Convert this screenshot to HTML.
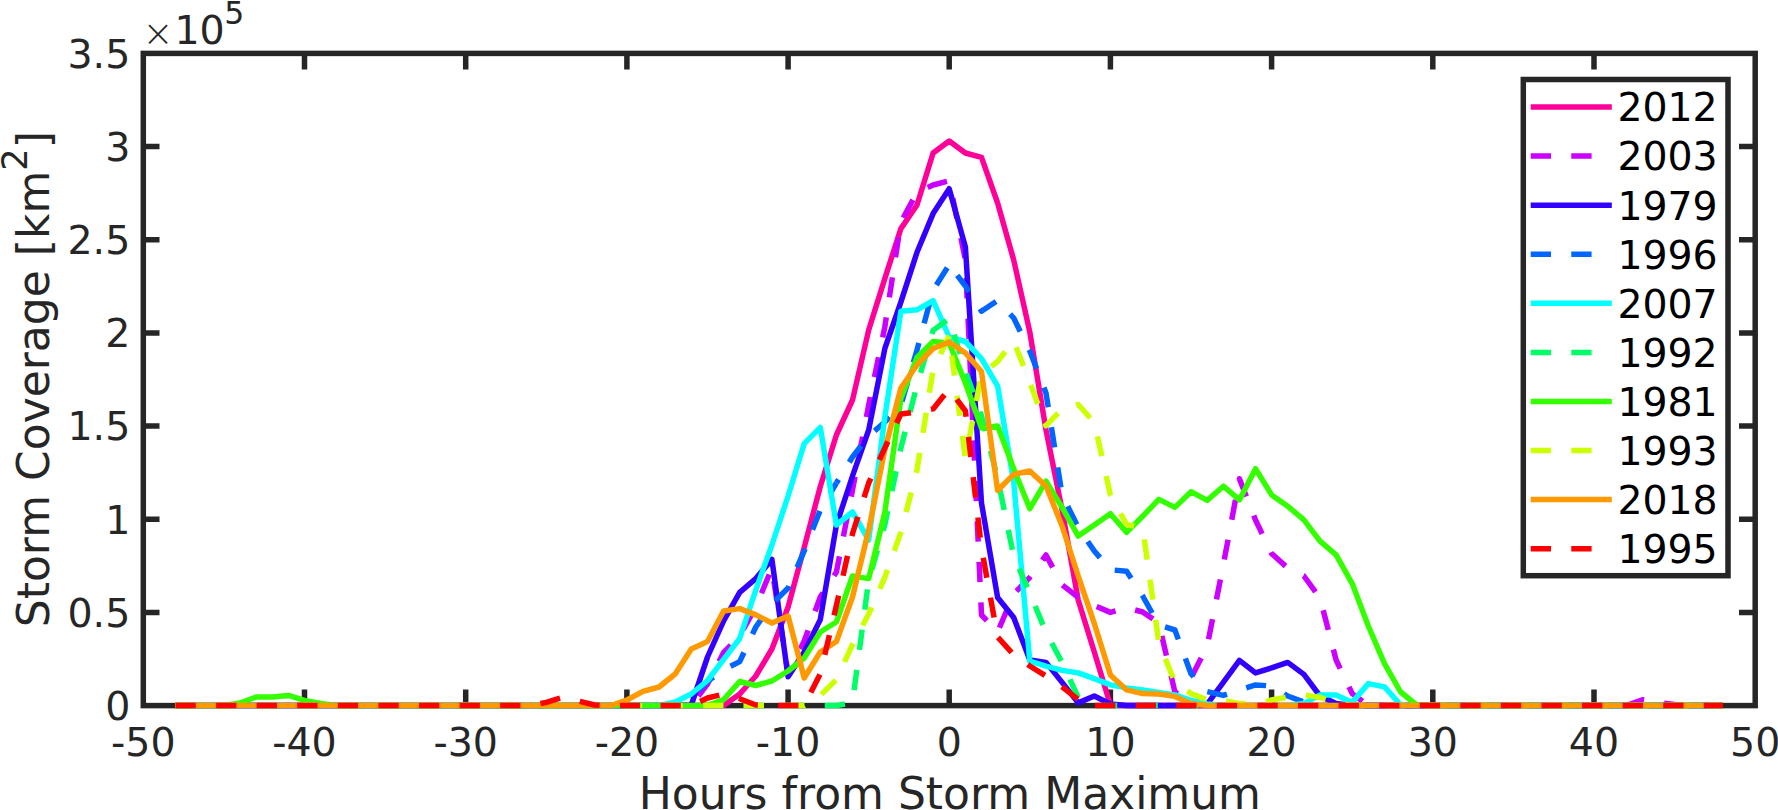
<!DOCTYPE html>
<html lang="en">
<head>
<meta charset="utf-8">
<title>Storm Coverage vs Hours from Storm Maximum</title>
<style>
html,body{margin:0;padding:0;background:#fff;}
body{width:1778px;height:810px;overflow:hidden;}
svg{display:block;}
text{font-family:"DejaVu Sans","Liberation Sans",sans-serif;}
.tk{font-size:39.5px;fill:#262626;}
.lg{font-size:39.4px;fill:#000;}
.ln{fill:none;stroke-width:5.5;stroke-linejoin:round;stroke-linecap:butt;}
.ds{stroke-dasharray:20.3 20.28;}
</style>
</head>
<body>
<svg width="1778" height="810" viewBox="0 0 1778 810">
<rect x="0" y="0" width="1778" height="810" fill="#ffffff"/>

<g stroke="#262626" stroke-width="5.5" fill="none" stroke-linecap="butt">
<rect x="143.3" y="53.4" width="1611.9" height="652.2"/>
<path d="M304.5 705.6V689.4M304.5 53.4V69.6"/>
<path d="M465.7 705.6V689.4M465.7 53.4V69.6"/>
<path d="M626.9 705.6V689.4M626.9 53.4V69.6"/>
<path d="M788.1 705.6V689.4M788.1 53.4V69.6"/>
<path d="M949.2 705.6V689.4M949.2 53.4V69.6"/>
<path d="M1110.4 705.6V689.4M1110.4 53.4V69.6"/>
<path d="M1271.6 705.6V689.4M1271.6 53.4V69.6"/>
<path d="M1432.8 705.6V689.4M1432.8 53.4V69.6"/>
<path d="M1594.0 705.6V689.4M1594.0 53.4V69.6"/>
<path d="M143.3 612.4H159.5M1755.2 612.4H1739.0"/>
<path d="M143.3 519.3H159.5M1755.2 519.3H1739.0"/>
<path d="M143.3 426.1H159.5M1755.2 426.1H1739.0"/>
<path d="M143.3 332.9H159.5M1755.2 332.9H1739.0"/>
<path d="M143.3 239.7H159.5M1755.2 239.7H1739.0"/>
<path d="M143.3 146.6H159.5M1755.2 146.6H1739.0"/>
</g>
<g class="plot">
<path class="ln" stroke="#FF0099" d="M175.5 705.6L191.7 705.6L207.8 705.6L223.9 705.6L240.0 705.6L256.1 705.6L272.3 705.6L288.4 705.6L304.5 705.6L320.6 705.6L336.7 705.6L352.8 705.6L369.0 705.6L385.1 705.6L401.2 705.6L417.3 705.6L433.4 705.6L449.6 705.6L465.7 705.6L481.8 705.6L497.9 705.6L514.0 705.6L530.2 705.6L546.3 705.6L562.4 705.6L578.5 705.6L594.6 705.6L610.8 705.6L626.9 705.6L643.0 705.6L659.1 705.6L675.2 705.6L691.3 705.6L707.5 705.6L723.6 705.6L739.7 694.0L755.8 676.0L771.9 649.0L788.1 607.0L804.2 547.4L820.3 486.5L836.4 435.0L852.5 400.0L868.7 330.0L884.8 278.6L900.9 228.6L917.0 205.0L933.1 153.0L949.2 141.0L965.4 153.0L981.5 157.3L997.6 203.0L1013.7 260.0L1029.8 332.0L1046.0 430.0L1062.1 510.0L1078.2 600.0L1094.3 652.0L1110.4 705.0L1126.6 705.6L1142.7 705.6L1158.8 705.6L1174.9 705.6L1191.0 705.6L1207.2 705.6L1223.3 705.6L1239.4 705.6L1255.5 705.6L1271.6 705.6L1287.7 705.6L1303.9 705.6L1320.0 705.6L1336.1 705.6L1352.2 705.6L1368.3 705.6L1384.5 705.6L1400.6 705.6L1416.7 705.6L1432.8 705.6L1448.9 705.6L1465.1 705.6L1481.2 705.6L1497.3 705.6L1513.4 705.6L1529.5 705.6L1545.7 705.6L1561.8 705.6L1577.9 705.6L1594.0 705.6L1610.1 705.6L1626.2 705.6L1642.4 705.6L1658.5 705.6L1674.6 705.6L1690.7 705.6L1706.8 705.6L1723.0 705.6"/>
<path class="ln ds" stroke="#CC00FF" d="M175.5 705.6L191.7 705.6L207.8 705.6L223.9 705.6L240.0 705.6L256.1 705.6L272.3 705.6L288.4 705.6L304.5 705.6L320.6 705.6L336.7 705.6L352.8 705.6L369.0 705.6L385.1 705.6L401.2 705.6L417.3 705.6L433.4 705.6L449.6 705.6L465.7 705.6L481.8 705.6L497.9 705.6L514.0 705.6L530.2 705.6L546.3 705.6L562.4 705.6L578.5 705.6L594.6 705.6L610.8 705.6L626.9 705.6L643.0 705.6L659.1 705.6L675.2 705.6L691.3 705.6L707.5 684.0L723.6 652.5L739.7 636.0L755.8 607.0L771.9 568.0L788.1 674.0L804.2 641.0L820.3 597.0L836.4 572.0L852.5 490.0L868.7 405.0L884.8 327.0L900.9 222.0L917.0 192.4L933.1 185.0L949.2 180.7L965.4 260.0L981.5 615.0L997.6 632.0L1013.7 594.0L1029.8 577.3L1046.0 555.0L1062.1 584.8L1078.2 597.4L1094.3 605.5L1110.4 612.4L1126.6 607.8L1142.7 612.0L1158.8 623.0L1174.9 692.0L1191.0 678.0L1207.2 646.0L1223.3 565.0L1239.4 478.7L1255.5 520.0L1271.6 553.6L1287.7 568.0L1303.9 576.0L1320.0 598.0L1336.1 660.0L1352.2 693.6L1368.3 705.6L1384.5 705.6L1400.6 705.6L1416.7 705.6L1432.8 705.6L1448.9 705.6L1465.1 705.6L1481.2 705.6L1497.3 705.6L1513.4 705.6L1529.5 705.6L1545.7 705.6L1561.8 705.6L1577.9 705.6L1594.0 705.6L1610.1 705.6L1626.2 705.6L1642.4 699.8L1658.5 702.5L1674.6 704.5L1690.7 705.6L1706.8 705.6L1723.0 705.6"/>
<path class="ln" stroke="#3300FF" d="M175.5 705.6L191.7 705.6L207.8 705.6L223.9 705.6L240.0 705.6L256.1 705.6L272.3 705.6L288.4 705.6L304.5 705.6L320.6 705.6L336.7 705.6L352.8 705.6L369.0 705.6L385.1 705.6L401.2 705.6L417.3 705.6L433.4 705.6L449.6 705.6L465.7 705.6L481.8 705.6L497.9 705.6L514.0 705.6L530.2 705.6L546.3 705.6L562.4 705.6L578.5 705.6L594.6 705.6L610.8 705.6L626.9 705.6L643.0 705.6L659.1 705.6L675.2 705.6L691.3 705.0L707.5 657.0L723.6 621.0L739.7 592.4L755.8 578.6L771.9 559.4L788.1 676.8L804.2 652.0L820.3 619.6L836.4 525.0L852.5 476.0L868.7 430.0L884.8 348.7L900.9 302.0L917.0 252.3L933.1 213.6L949.2 188.7L965.4 247.0L981.5 503.0L997.6 597.5L1013.7 617.5L1029.8 660.0L1046.0 662.4L1062.1 682.4L1078.2 702.9L1094.3 696.0L1110.4 704.0L1126.6 705.6L1142.7 705.6L1158.8 705.6L1174.9 705.6L1191.0 705.6L1207.2 704.1L1223.3 682.4L1239.4 660.4L1255.5 672.9L1271.6 667.9L1287.7 662.4L1303.9 674.4L1320.0 696.0L1336.1 703.6L1352.2 705.6L1368.3 705.6L1384.5 705.6L1400.6 705.6L1416.7 705.6L1432.8 705.6L1448.9 705.6L1465.1 705.6L1481.2 705.6L1497.3 705.6L1513.4 705.6L1529.5 705.6L1545.7 705.6L1561.8 705.6L1577.9 705.6L1594.0 705.6L1610.1 705.6L1626.2 705.6L1642.4 705.6L1658.5 705.6L1674.6 705.6L1690.7 705.6L1706.8 705.6L1723.0 705.6"/>
<path class="ln ds" stroke="#0066FF" d="M175.5 705.6L191.7 705.6L207.8 705.6L223.9 705.6L240.0 705.6L256.1 705.6L272.3 705.6L288.4 705.6L304.5 705.6L320.6 705.6L336.7 705.6L352.8 705.6L369.0 705.6L385.1 705.6L401.2 705.6L417.3 705.6L433.4 705.6L449.6 705.6L465.7 705.6L481.8 705.6L497.9 705.6L514.0 705.6L530.2 705.6L546.3 705.6L562.4 705.6L578.5 705.6L594.6 705.6L610.8 705.6L626.9 705.6L643.0 705.6L659.1 705.6L675.2 705.6L691.3 697.0L707.5 681.4L723.6 669.7L739.7 661.6L755.8 627.0L771.9 604.0L788.1 588.0L804.2 551.0L820.3 510.0L836.4 483.0"/>
<path class="ln ds" stroke="#0066FF" stroke-dashoffset="16.15" d="M836.4 483.0L852.5 457.0L868.7 436.0L884.8 422.0L900.9 405.0L917.0 350.0L933.1 290.0L949.2 264.8"/>
<path class="ln ds" stroke="#0066FF" stroke-dashoffset="27.37" d="M949.2 264.8L965.4 286.0L981.5 311.2L997.6 300.5L1013.7 318.0L1029.8 351.0L1046.0 393.0L1062.1 495.0L1078.2 527.4L1094.3 551.0L1110.4 569.7L1126.6 571.3L1142.7 596.0L1158.8 625.0L1174.9 630.0L1191.0 673.7L1207.2 691.6L1223.3 695.4L1239.4 689.9L1255.5 684.9L1271.6 686.0L1287.7 696.0L1303.9 702.0L1320.0 705.6L1336.1 705.6L1352.2 705.6L1368.3 705.6L1384.5 705.6L1400.6 705.6L1416.7 705.6L1432.8 705.6L1448.9 705.6L1465.1 705.6L1481.2 705.6L1497.3 705.6L1513.4 705.6L1529.5 705.6L1545.7 705.6L1561.8 705.6L1577.9 705.6L1594.0 705.6L1610.1 705.6L1626.2 705.6L1642.4 705.6L1658.5 705.6L1674.6 705.6L1690.7 705.6L1706.8 705.6L1723.0 705.6"/>
<path class="ln" stroke="#00FFFF" d="M175.5 705.6L191.7 705.6L207.8 705.6L223.9 705.6L240.0 705.6L256.1 705.6L272.3 705.6L288.4 705.6L304.5 705.6L320.6 705.6L336.7 705.6L352.8 705.6L369.0 705.6L385.1 705.6L401.2 705.6L417.3 705.6L433.4 705.6L449.6 705.6L465.7 705.6L481.8 705.6L497.9 705.6L514.0 705.6L530.2 705.6L546.3 705.6L562.4 705.6L578.5 705.6L594.6 705.6L610.8 705.6L626.9 705.6L643.0 705.6L659.1 705.6L675.2 702.0L691.3 694.0L707.5 680.5L723.6 659.5L739.7 638.5L755.8 590.0L771.9 545.0L788.1 496.0L804.2 443.6L820.3 427.4L836.4 525.0L852.5 512.0L868.7 540.0L884.8 417.4L900.9 311.2L917.0 309.8L933.1 300.6L949.2 337.0L965.4 341.5L981.5 358.6L997.6 386.0L1013.7 482.0L1029.8 661.2L1046.0 666.2L1062.1 670.4L1078.2 672.9L1094.3 678.7L1110.4 684.9L1126.6 687.9L1142.7 689.9L1158.8 692.4L1174.9 694.9L1191.0 700.4L1207.2 704.0L1223.3 705.6L1239.4 705.6L1255.5 705.6L1271.6 705.6L1287.7 705.6L1303.9 703.6L1320.0 694.9L1336.1 694.9L1352.2 702.4L1368.3 683.6L1384.5 686.9L1400.6 704.9L1416.7 705.6L1432.8 705.6L1448.9 705.6L1465.1 705.6L1481.2 705.6L1497.3 705.6L1513.4 705.6L1529.5 705.6L1545.7 705.6L1561.8 705.6L1577.9 705.6L1594.0 705.6L1610.1 705.6L1626.2 705.6L1642.4 705.6L1658.5 705.6L1674.6 705.6L1690.7 705.6L1706.8 705.6L1723.0 705.6"/>
<path class="ln ds" stroke="#00FF66" d="M175.5 705.6L191.7 705.6L207.8 705.6L223.9 705.6L240.0 705.6L256.1 705.6L272.3 705.6L288.4 705.6L304.5 705.6L320.6 705.6L336.7 705.6L352.8 705.6L369.0 705.6L385.1 705.6L401.2 705.6L417.3 705.6L433.4 705.6L449.6 705.6L465.7 705.6L481.8 705.6L497.9 705.6L514.0 705.6L530.2 705.6L546.3 705.6L562.4 705.6L578.5 705.6L594.6 705.6L610.8 705.6L626.9 705.6L643.0 705.6L659.1 705.6L675.2 705.6L691.3 705.6L707.5 705.6L723.6 705.6L739.7 705.6L755.8 705.6L771.9 705.6L788.1 705.6L804.2 705.6L820.3 705.6L836.4 705.6L852.5 702.5L868.7 580.0L884.8 525.0L900.9 448.0L917.0 385.0L933.1 330.4L949.2 318.5L965.4 371.0L981.5 416.0L997.6 478.0L1013.7 556.0L1029.8 593.0L1046.0 632.4L1062.1 662.4L1078.2 697.4L1094.3 705.6L1110.4 705.6L1126.6 705.6L1142.7 705.6L1158.8 705.6L1174.9 705.6L1191.0 705.6L1207.2 705.6L1223.3 705.6L1239.4 705.6L1255.5 705.6L1271.6 705.6L1287.7 705.6L1303.9 705.6L1320.0 705.6L1336.1 705.6L1352.2 705.6L1368.3 705.6L1384.5 705.6L1400.6 705.6L1416.7 705.6L1432.8 705.6L1448.9 705.6L1465.1 705.6L1481.2 705.6L1497.3 705.6L1513.4 705.6L1529.5 705.6L1545.7 705.6L1561.8 705.6L1577.9 705.6L1594.0 705.6L1610.1 705.6L1626.2 705.6L1642.4 705.6L1658.5 705.6L1674.6 705.6L1690.7 705.6L1706.8 705.6L1723.0 705.6"/>
<path class="ln" stroke="#33FF00" d="M175.5 705.6L191.7 705.6L207.8 705.6L223.9 705.6L240.0 703.0L256.1 697.0L272.3 697.0L288.4 695.4L304.5 700.4L320.6 703.4L336.7 705.6L352.8 705.6L369.0 705.6L385.1 705.6L401.2 705.6L417.3 705.6L433.4 705.6L449.6 705.6L465.7 705.6L481.8 705.6L497.9 705.6L514.0 705.6L530.2 705.6L546.3 705.6L562.4 705.6L578.5 705.6L594.6 705.6L610.8 705.6L626.9 705.6L643.0 705.6L659.1 705.6L675.2 705.6L691.3 705.6L707.5 705.6L723.6 699.6L739.7 681.5L755.8 685.5L771.9 681.0L788.1 671.0L804.2 658.0L820.3 632.0L836.4 622.0L852.5 576.0L868.7 578.6L884.8 512.5L900.9 398.6L917.0 357.5L933.1 341.5L949.2 343.0L965.4 383.0L981.5 428.0L997.6 426.0L1013.7 468.6L1029.8 508.7L1046.0 481.2L1062.1 507.4L1078.2 536.1L1094.3 524.9L1110.4 513.7L1126.6 532.4L1142.7 516.2L1158.8 499.4L1174.9 507.4L1191.0 491.7L1207.2 500.4L1223.3 486.2L1239.4 499.9L1255.5 468.7L1271.6 494.9L1287.7 506.2L1303.9 519.9L1320.0 541.1L1336.1 554.9L1352.2 583.6L1368.3 626.0L1384.5 663.7L1400.6 692.0L1416.7 705.0L1432.8 705.6L1448.9 705.6L1465.1 705.6L1481.2 705.6L1497.3 705.6L1513.4 705.6L1529.5 705.6L1545.7 705.6L1561.8 705.6L1577.9 705.6L1594.0 705.6L1610.1 705.6L1626.2 705.6L1642.4 705.6L1658.5 705.6L1674.6 705.6L1690.7 705.6L1706.8 705.6L1723.0 705.6"/>
<path class="ln ds" stroke="#CCFF00" d="M175.5 705.6L191.7 705.6L207.8 705.6L223.9 705.6L240.0 705.6L256.1 705.6L272.3 705.6L288.4 705.6L304.5 705.6L320.6 705.6L336.7 705.6L352.8 705.6L369.0 705.6L385.1 705.6L401.2 705.6L417.3 705.6L433.4 705.6L449.6 705.6L465.7 705.6L481.8 705.6L497.9 705.6L514.0 705.6L530.2 705.6L546.3 705.6L562.4 705.6L578.5 705.6L594.6 705.6L610.8 705.6L626.9 705.6L643.0 705.6L659.1 705.6L675.2 705.6L691.3 705.6L707.5 705.6L723.6 705.6L739.7 705.6L755.8 705.6L771.9 705.6L788.1 705.6L804.2 705.6L820.3 695.5L836.4 679.5L852.5 644.5L868.7 614.0L884.8 577.4L900.9 532.4L917.0 470.0L933.1 369.6L949.2 335.6L965.4 458.5L981.5 374.0"/>
<path class="ln ds" stroke="#CCFF00" stroke-dashoffset="28.12" d="M981.5 374.0L997.6 361.5L1013.7 341.0L1029.8 382.5L1046.0 425.7L1062.1 409.0L1078.2 404.5L1094.3 422.6L1110.4 495.0L1126.6 524.5L1142.7 528.0L1158.8 642.4L1174.9 682.4L1191.0 693.6L1207.2 699.9L1223.3 700.5L1239.4 703.6L1255.5 704.5L1271.6 700.0L1287.7 697.0L1303.9 694.9L1320.0 697.4L1336.1 702.0L1352.2 705.6L1368.3 705.6L1384.5 705.6L1400.6 705.6L1416.7 705.6L1432.8 705.6L1448.9 705.6L1465.1 705.6L1481.2 705.6L1497.3 705.6L1513.4 705.6L1529.5 705.6L1545.7 705.6L1561.8 705.6L1577.9 705.6L1594.0 705.6L1610.1 705.6L1626.2 705.6L1642.4 705.6L1658.5 705.6L1674.6 705.6L1690.7 705.6L1706.8 705.6L1723.0 705.6"/>
<path class="ln" stroke="#FF9900" d="M175.5 705.6L191.7 705.6L207.8 705.6L223.9 705.6L240.0 705.6L256.1 705.6L272.3 705.6L288.4 705.6L304.5 705.6L320.6 705.6L336.7 705.6L352.8 705.6L369.0 705.6L385.1 705.6L401.2 705.6L417.3 705.6L433.4 705.6L449.6 705.6L465.7 705.6L481.8 705.6L497.9 705.6L514.0 705.6L530.2 705.6L546.3 705.6L562.4 705.6L578.5 705.6L594.6 705.6L610.8 705.6L626.9 700.0L643.0 691.4L659.1 687.0L675.2 674.0L691.3 649.0L707.5 641.5L723.6 611.0L739.7 608.6L755.8 614.9L771.9 623.0L788.1 616.0L804.2 678.0L820.3 652.0L836.4 641.5L852.5 597.0L868.7 530.0L884.8 449.8L900.9 388.0L917.0 365.0L933.1 348.5L949.2 342.0L965.4 353.0L981.5 371.5L997.6 490.5L1013.7 474.4L1029.8 471.0L1046.0 486.0L1062.1 526.0L1078.2 576.0L1094.3 623.5L1110.4 674.9L1126.6 689.9L1142.7 693.6L1158.8 694.0L1174.9 696.4L1191.0 703.6L1207.2 705.6L1223.3 705.6L1239.4 705.6L1255.5 705.6L1271.6 705.6L1287.7 705.6L1303.9 705.6L1320.0 705.6L1336.1 705.6L1352.2 705.6L1368.3 705.6L1384.5 705.6L1400.6 705.6L1416.7 705.6L1432.8 705.6L1448.9 705.6L1465.1 705.6L1481.2 705.6L1497.3 705.6L1513.4 705.6L1529.5 705.6L1545.7 705.6L1561.8 705.6L1577.9 705.6L1594.0 705.6L1610.1 705.6L1626.2 705.6L1642.4 705.6L1658.5 705.6L1674.6 705.6L1690.7 705.6L1706.8 705.6L1723.0 705.6"/>
<path class="ln ds" stroke="#FF0000" d="M175.5 705.6L191.7 705.6L207.8 705.6L223.9 705.6L240.0 705.6L256.1 705.6L272.3 705.6L288.4 705.6L304.5 705.6L320.6 705.6L336.7 705.6L352.8 705.6L369.0 705.6L385.1 705.6L401.2 705.6L417.3 705.6L433.4 705.6L449.6 705.6L465.7 705.6L481.8 705.6L497.9 705.6L514.0 705.6L530.2 705.6L546.3 702.4L562.4 697.4L578.5 701.0L594.6 705.0L610.8 705.6L626.9 705.6L643.0 705.6L659.1 705.6L675.2 705.6L691.3 705.6L707.5 698.0L723.6 694.0L739.7 698.7L755.8 705.0L771.9 705.6L788.1 705.6L804.2 705.6L820.3 673.8L836.4 605.5L852.5 533.7L868.7 483.0L884.8 448.0L900.9 414.0L917.0 412.0L933.1 408.9L949.2 389.0L965.4 411.0L981.5 548.0L997.6 637.0L1013.7 654.9L1029.8 666.0L1046.0 676.0L1062.1 686.9L1078.2 699.4L1094.3 705.6"/>
<path class="ln ds" stroke="#FF0000" stroke-dashoffset="39.79" d="M1094.3 705.6L1110.4 705.6L1126.6 705.6L1142.7 705.6L1158.8 705.6L1174.9 705.6L1191.0 705.6L1207.2 705.6L1223.3 705.6L1239.4 705.6L1255.5 705.6L1271.6 705.6L1287.7 705.6L1303.9 705.6L1320.0 705.6L1336.1 705.6L1352.2 705.6L1368.3 705.6L1384.5 705.6L1400.6 705.6L1416.7 705.6L1432.8 705.6L1448.9 705.6L1465.1 705.6L1481.2 705.6L1497.3 705.6L1513.4 705.6L1529.5 705.6L1545.7 705.6L1561.8 705.6L1577.9 705.6L1594.0 705.6L1610.1 705.6L1626.2 705.6L1642.4 705.6L1658.5 705.6L1674.6 705.6L1690.7 705.6L1706.8 705.6L1723.0 705.6"/>
</g>
<text class="tk" x="143.3" y="755.7" text-anchor="middle">-50</text>
<text class="tk" x="304.5" y="755.7" text-anchor="middle">-40</text>
<text class="tk" x="465.7" y="755.7" text-anchor="middle">-30</text>
<text class="tk" x="626.9" y="755.7" text-anchor="middle">-20</text>
<text class="tk" x="788.1" y="755.7" text-anchor="middle">-10</text>
<text class="tk" x="949.2" y="755.7" text-anchor="middle">0</text>
<text class="tk" x="1110.4" y="755.7" text-anchor="middle">10</text>
<text class="tk" x="1271.6" y="755.7" text-anchor="middle">20</text>
<text class="tk" x="1432.8" y="755.7" text-anchor="middle">30</text>
<text class="tk" x="1594.0" y="755.7" text-anchor="middle">40</text>
<text class="tk" x="1755.2" y="755.7" text-anchor="middle">50</text>
<text class="tk" x="130.3" y="719.8" text-anchor="end">0</text>
<text class="tk" x="130.3" y="626.6" text-anchor="end">0.5</text>
<text class="tk" x="130.3" y="533.5" text-anchor="end">1</text>
<text class="tk" x="130.3" y="440.3" text-anchor="end">1.5</text>
<text class="tk" x="130.3" y="347.1" text-anchor="end">2</text>
<text class="tk" x="130.3" y="253.9" text-anchor="end">2.5</text>
<text class="tk" x="130.3" y="160.8" text-anchor="end">3</text>
<text class="tk" x="130.3" y="67.6" text-anchor="end">3.5</text>
<text x="142.4" y="46.1" style="font-family:'DejaVu Sans Light','DejaVu Sans',sans-serif;font-weight:200;font-size:37px;fill:#262626">×</text>
<text class="tk" x="174.4" y="44.0">10<tspan dx="-0.5" dy="-20.3" font-size="31.5px">5</tspan></text>
<text class="tk" x="949.8" y="809" text-anchor="middle" style="font-size:44px">Hours from Storm Maximum</text>
<text class="tk" transform="translate(49.2,379.2) rotate(-90)" text-anchor="middle" style="font-size:44.0px">Storm Coverage [km<tspan dy="-22.5" font-size="35.2px">2</tspan><tspan dy="22.5">]</tspan></text>
<rect x="1523.3" y="79.5" width="204.7" height="496.2" fill="#fff" stroke="#262626" stroke-width="5.5"/>
<path class="ln" stroke="#FF0099" d="M1530.7 107.0H1611.8"/>
<text class="lg" x="1617.4" y="121.3">2012</text>
<path class="ln ds" stroke="#CC00FF" d="M1530.7 156.1H1611.8"/>
<text class="lg" x="1617.4" y="170.4">2003</text>
<path class="ln" stroke="#3300FF" d="M1530.7 205.2H1611.8"/>
<text class="lg" x="1617.4" y="219.5">1979</text>
<path class="ln ds" stroke="#0066FF" d="M1530.7 254.2H1611.8"/>
<text class="lg" x="1617.4" y="268.5">1996</text>
<path class="ln" stroke="#00FFFF" d="M1530.7 303.3H1611.8"/>
<text class="lg" x="1617.4" y="317.6">2007</text>
<path class="ln ds" stroke="#00FF66" d="M1530.7 352.4H1611.8"/>
<text class="lg" x="1617.4" y="366.7">1992</text>
<path class="ln" stroke="#33FF00" d="M1530.7 401.5H1611.8"/>
<text class="lg" x="1617.4" y="415.8">1981</text>
<path class="ln ds" stroke="#CCFF00" d="M1530.7 450.6H1611.8"/>
<text class="lg" x="1617.4" y="464.9">1993</text>
<path class="ln" stroke="#FF9900" d="M1530.7 499.6H1611.8"/>
<text class="lg" x="1617.4" y="513.9">2018</text>
<path class="ln ds" stroke="#FF0000" d="M1530.7 548.7H1611.8"/>
<text class="lg" x="1617.4" y="563.0">1995</text>
</svg>
</body>
</html>
